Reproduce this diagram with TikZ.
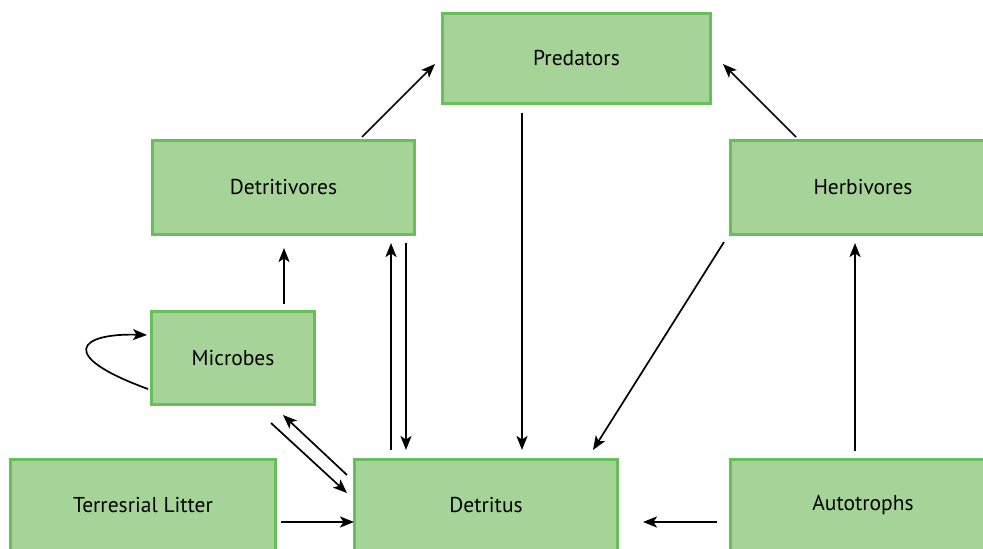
\documentclass[tikz,border=0pt]{standalone}
\usepackage{fontspec}
\setmainfont{PT Sans}
\usetikzlibrary{calc,arrows.meta}
\definecolor{boxfill}{RGB}{166,212,152}
\definecolor{boxline}{RGB}{104,190,88}
\tikzset{
  box/.style={draw=boxline, fill=boxfill, line width=3pt, rectangle, inner sep=0pt,
    font=\fontsize{21.5}{26}\selectfont, text=black},
  arr/.style={draw=black, line width=1.7pt, -{Stealth[length=14pt,width=11pt,inset=3.5pt]}}
}
\begin{document}
\begin{tikzpicture}[x=1pt,y=-1pt]
\useasboundingbox (0,0) rectangle (983,549);
\clip (0,0) rectangle (983,549);
\node[box, minimum width=268pt, minimum height=90pt] (pred) at (576.5,58.5) {Predators};
\node[box, minimum width=262pt, minimum height=94pt] (detv) at (283.5,187.5) {Detritivores};
\node[box, minimum width=265pt, minimum height=94pt] (herb) at (863,187.5) {Herbivores};
\node[box, minimum width=163pt, minimum height=93pt] (mic) at (233,358) {Microbes};
\node[box, minimum width=265pt, minimum height=92pt] (litter) at (143,505.5) {Terresrial Litter};
\node[box, minimum width=263pt, minimum height=92pt] (det) at (486,505.5) {Detritus};
\node[box, minimum width=265pt, minimum height=92pt] (auto) at (863,505.5) {Autotrophs};

\draw[arr] ($(detv.north)+(78.5,-2)$) -- ($(pred.west)+(-6,5.5)$);
\draw[arr] ($(herb.north)+(-67,-2)$) -- ($(pred.east)+(11,5.5)$);
\draw[arr] ($(pred.south)+(-54.5,8)$) -- ($(det.north)+(36,-8)$);
\draw[arr] ($(herb.south)+(-139,6)$) -- ($(det.north)+(107,-8)$);
\draw[arr] ($(mic.north)+(51,-6)$) -- ($(detv.south)+(0.5,12)$);
\draw[arr] ($(det.north)+(-95,-8)$) -- ($(detv.south)+(107.5,7)$);
\draw[arr] ($(detv.south)+(122.5,7)$) -- ($(det.north)+(-80,-8)$);
\draw[arr] ($(mic.south)+(38,17)$) -- ($(det.west)+(-6,-12.5)$);
\draw[arr] ($(det.west)+(-6,-30.5)$) -- ($(mic.south)+(50,9)$);
\draw[arr] ($(litter.east)+(4,16.5)$) -- ($(det.west)+(1,16.5)$);
\draw[arr] ($(auto.west)+(-12,16.5)$) -- ($(det.east)+(24,16.5)$);
\draw[arr] ($(auto.north)+(-8,-7)$) -- ($(herb.south)+(-8,7)$);
\draw[arr] ($(mic.west)+(-2,31)$) .. controls ($(mic.west)+(-95,-3)$) and ($(mic.west)+(-70,-25)$) .. ($(mic.west)+(-3,-23)$);
\end{tikzpicture}
\end{document}
